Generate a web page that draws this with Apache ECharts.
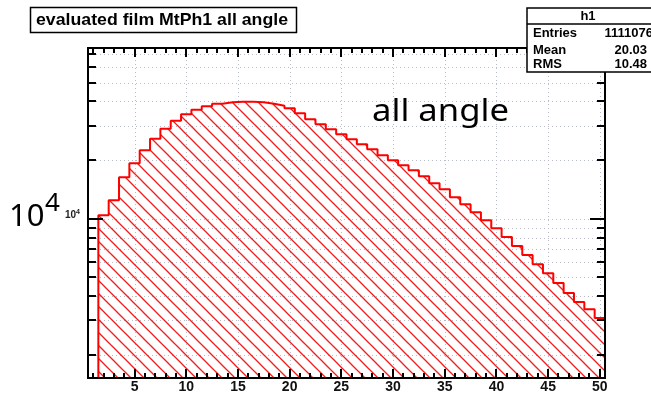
<!DOCTYPE html>
<html>
<head>
<meta charset="utf-8">
<script src="https://cdn.jsdelivr.net/npm/echarts@6/dist/echarts.min.js"></script>
<style>
  html, body { margin: 0; padding: 0; background: #ffffff; }
  #chart { width: 651px; height: 396px; }
</style>
</head>
<body>
<div id="chart"></div>
<script>
// Histogram h1: film angle distribution, 1-unit bins centred on integer angles
const binCenters = [2, 3, 4, 5, 6, 7, 8, 9, 10, 11, 12, 13, 14, 15, 16, 17, 18, 19, 20,
  21, 22, 23, 24, 25, 26, 27, 28, 29, 30, 31, 32, 33, 34, 35, 36, 37, 38, 39, 40,
  41, 42, 43, 44, 45, 46, 47, 48, 49, 50];
const counts = [10420, 12440, 16320, 19260, 22450, 25720, 28940, 31800, 34360, 36220,
  37750, 38880, 39580, 39810, 39810, 39580, 38880, 37980, 36870, 34750,
  32380, 30520, 28770, 27130, 25570, 24110, 22730, 21170, 19950, 18810,
  17730, 16520, 15210, 14170, 12890, 11870, 10800, 9820, 8940, 8040,
  7230, 6500, 5840, 5250, 4670, 4150, 3730, 3430, 3090];

// Axis ranges and tick values
const X_MIN = 0.5, X_MAX = 50.5;
const Y_MIN = 1520, Y_MAX = 75200;
const xMajorTicks = [5, 10, 15, 20, 25, 30, 35, 40, 45, 50];
const xTickLabels = ['5', '10', '15', '20', '25', '30', '35', '40', '45', '50'];
const xMinorStep = 1;
const yMajorTicks = [10000];
const yMinorTicks = [2000, 3000, 4000, 5000, 6000, 7000, 8000, 9000,
  20000, 30000, 40000, 50000, 60000, 70000];

// Title and statistics box texts
const titleText = 'evaluated film MtPh1 all angle';
const statsName = 'h1';
const statsRows = [['Entries', '1111076'], ['Mean', '20.03'], ['RMS', '10.48']];
const noteText = 'all angle';

const RED = '#ff0000';
const HATCH = '#f01e1e';
const GRID = '#b8bcc8';

// Diagonal "\\\" hatch used as the histogram fill
function makeHatch() {
  const s = 13;
  const c = document.createElement('canvas');
  c.width = s; c.height = s;
  const g = c.getContext('2d');
  g.strokeStyle = HATCH;
  g.lineWidth = 1.3;
  for (const off of [-s, 0, s]) {
    g.beginPath();
    g.moveTo(-3, -3 + off);
    g.lineTo(s + 3, s + 3 + off);
    g.stroke();
  }
  return c;
}

// Outline of the histogram, as a stepped line through bin edges
const histPoints = [[binCenters[0] - 0.5, Y_MIN]];
binCenters.forEach((c, i) => histPoints.push([c - 0.5, counts[i]]));
histPoints.push([binCenters[binCenters.length - 1] + 0.5, counts[counts.length - 1]]);

// Tick tables: [x, y, orientation (0 = vertical axis tick on x, 1 = on y), major]
const xMinorTicks = [];
for (let v = Math.ceil(X_MIN); v <= X_MAX; v += xMinorStep) {
  if (xMajorTicks.indexOf(v) < 0) xMinorTicks.push(v);
}
const tickData = []
  .concat(xMajorTicks.map(v => [v, Y_MIN, 0, 1]))
  .concat(xMinorTicks.map(v => [v, Y_MIN, 0, 0]))
  .concat(yMajorTicks.map(v => [X_MIN, v, 1, 1]))
  .concat(yMinorTicks.map(v => [X_MIN, v, 1, 0]));
const gridData = []
  .concat(xMajorTicks.map(v => [v, Y_MIN, 0]))
  .concat(yMajorTicks.concat(yMinorTicks).map(v => [X_MIN, v, 1]));

const crisp = v => Math.round(v) + 0.5;

function renderGridLine(params, api) {
  const cs = params.coordSys;
  const p = api.coord([api.value(0), api.value(1)]);
  const shape = api.value(2) === 0
    ? { x1: crisp(p[0]), y1: cs.y, x2: crisp(p[0]), y2: cs.y + cs.height }
    : { x1: cs.x, y1: crisp(p[1]), x2: cs.x + cs.width, y2: crisp(p[1]) };
  return { type: 'line', shape, style: { stroke: GRID, lineWidth: 1, lineDash: [1, 3] } };
}

function renderTick(params, api) {
  const cs = params.coordSys;
  const p = api.coord([api.value(0), api.value(1)]);
  const major = api.value(3) === 1;
  const st = { stroke: '#000', lineWidth: 2 };
  if (api.value(2) === 0) {
    const len = major ? 9 : 5;
    const x = Math.round(p[0]);
    return { type: 'group', children: [
      { type: 'line', shape: { x1: x, y1: cs.y + cs.height, x2: x, y2: cs.y + cs.height - len }, style: st },
      { type: 'line', shape: { x1: x, y1: cs.y, x2: x, y2: cs.y + len }, style: st }
    ] };
  }
  const len = major ? 15 : 8;
  const y = Math.round(p[1]);
  return { type: 'group', children: [
    { type: 'line', shape: { x1: cs.x, y1: y, x2: cs.x + len, y2: y }, style: st },
    { type: 'line', shape: { x1: cs.x + cs.width - len, y1: y, x2: cs.x + cs.width, y2: y }, style: st }
  ] };
}

function renderXLabel(params, api) {
  const p = api.coord([api.value(0), api.value(1)]);
  return { type: 'text', style: {
    x: p[0], y: p[1] + 9, text: xTickLabels[params.dataIndex],
    font: 'bold 14px "Liberation Sans", Arial, sans-serif', fill: '#111',
    align: 'center', verticalAlign: 'middle'
  } };
}

function renderYLabel(params, api) {
  const p = api.coord([api.value(0), api.value(1)]);
  return { type: 'group', children: [
    { type: 'text', style: { x: p[0] - 12, y: p[1] - 3, text: '10',
      font: 'bold 10px "Liberation Sans", Arial, sans-serif', fill: '#222',
      align: 'right', verticalAlign: 'middle' } },
    { type: 'text', style: { x: p[0] - 12, y: p[1] - 7, text: '4',
      font: 'bold 7px "Liberation Sans", Arial, sans-serif', fill: '#222',
      align: 'left', verticalAlign: 'middle' } }
  ] };
}

function renderFrame(params) {
  const cs = params.coordSys;
  return { type: 'rect', shape: { x: cs.x, y: cs.y, width: cs.width, height: cs.height },
    style: { fill: null, stroke: '#000', lineWidth: 2 } };
}

// Fit a text string to a measured width by horizontal scaling
const measureCtx = document.createElement('canvas').getContext('2d');
function fitScale(text, font, width) {
  measureCtx.font = font;
  return width / measureCtx.measureText(text).width;
}

const titleFont = 'bold 17px "Liberation Sans", Arial, sans-serif';
const statsFont = 'bold 13px "Liberation Sans", Arial, sans-serif';
const noteFont = '31px "Noto Sans", "Open Sans", sans-serif';

const graphics = [
  // title box
  { type: 'rect', shape: { x: 30.5, y: 7.5, width: 266, height: 25 },
    style: { fill: '#fff', stroke: '#000', lineWidth: 1.5 }, z: 10 },
  { type: 'text', x: 36, y: 20, scaleX: fitScale(titleText, titleFont, 252), z: 11,
    style: { text: titleText, font: titleFont, fill: '#000', align: 'left', verticalAlign: 'middle' } },
  // statistics box
  { type: 'rect', shape: { x: 527, y: 8, width: 140, height: 64 },
    style: { fill: '#fff', stroke: '#000', lineWidth: 1.5 }, z: 10 },
  { type: 'line', shape: { x1: 527, y1: 24, x2: 651, y2: 24 },
    style: { stroke: '#000', lineWidth: 1.5 }, z: 11 },
  { type: 'text', x: 588, y: 16, z: 11,
    style: { text: statsName, font: statsFont, fill: '#000', align: 'center', verticalAlign: 'middle' } },
  // annotations
  { type: 'text', x: 372, y: 112, scaleX: fitScale(noteText, noteFont, 137), z: 11,
    style: { text: noteText, font: noteFont, fill: '#000', align: 'left', verticalAlign: 'middle' } },
  { type: 'text', x: 9, y: 217, z: 11,
    style: { text: '10', font: noteFont, fill: '#000', align: 'left', verticalAlign: 'middle' } },
  { type: 'text', x: 45, y: 204, z: 11,
    style: { text: '4', font: '26px "Noto Sans", "Open Sans", sans-serif', fill: '#000', align: 'left', verticalAlign: 'middle' } }
];
const rowY = [33, 50, 64];
statsRows.forEach((r, i) => {
  graphics.push({ type: 'text', x: 533, y: rowY[i], z: 11,
    style: { text: r[0], font: statsFont, fill: '#000', align: 'left', verticalAlign: 'middle' } });
  graphics.push({ type: 'text', x: i === 0 ? 653 : 647, y: rowY[i], z: 11,
    style: { text: r[1], font: statsFont, fill: '#000', align: 'right', verticalAlign: 'middle' } });
});

const chart = echarts.init(document.getElementById('chart'), null, { renderer: 'canvas' });
chart.setOption({
  animation: false,
  backgroundColor: '#ffffff',
  grid: { left: 88, right: 46, top: 48, bottom: 18 },
  xAxis: {
    type: 'value', min: X_MIN, max: X_MAX,
    axisLine: { show: false }, axisTick: { show: false },
    axisLabel: { show: false }, splitLine: { show: false }
  },
  yAxis: {
    type: 'log', logBase: 10, min: Y_MIN, max: Y_MAX,
    axisLine: { show: false }, axisTick: { show: false },
    axisLabel: { show: false }, splitLine: { show: false }
  },
  series: [
    { type: 'custom', name: 'grid', coordinateSystem: 'cartesian2d', data: gridData,
      renderItem: renderGridLine, silent: true, z: 1, clip: false },
    { type: 'line', name: 'h1', data: histPoints, step: 'end', symbol: 'none', z: 2,
      lineStyle: { color: RED, width: 2 },
      areaStyle: { origin: 'start', opacity: 1, color: { image: makeHatch(), repeat: 'repeat' } } },
    { type: 'custom', name: 'frame', coordinateSystem: 'cartesian2d', data: [[X_MIN, Y_MIN]],
      renderItem: renderFrame, silent: true, z: 3, clip: false },
    { type: 'custom', name: 'ticks', coordinateSystem: 'cartesian2d', data: tickData,
      renderItem: renderTick, silent: true, z: 4, clip: false },
    { type: 'custom', name: 'xlabels', coordinateSystem: 'cartesian2d',
      data: xMajorTicks.map(v => [v, Y_MIN]),
      renderItem: renderXLabel, silent: true, z: 4, clip: false },
    { type: 'custom', name: 'ylabels', coordinateSystem: 'cartesian2d',
      data: yMajorTicks.map(v => [X_MIN, v]),
      renderItem: renderYLabel, silent: true, z: 4, clip: false }
  ],
  graphic: { elements: graphics }
});
</script>
</body>
</html>
